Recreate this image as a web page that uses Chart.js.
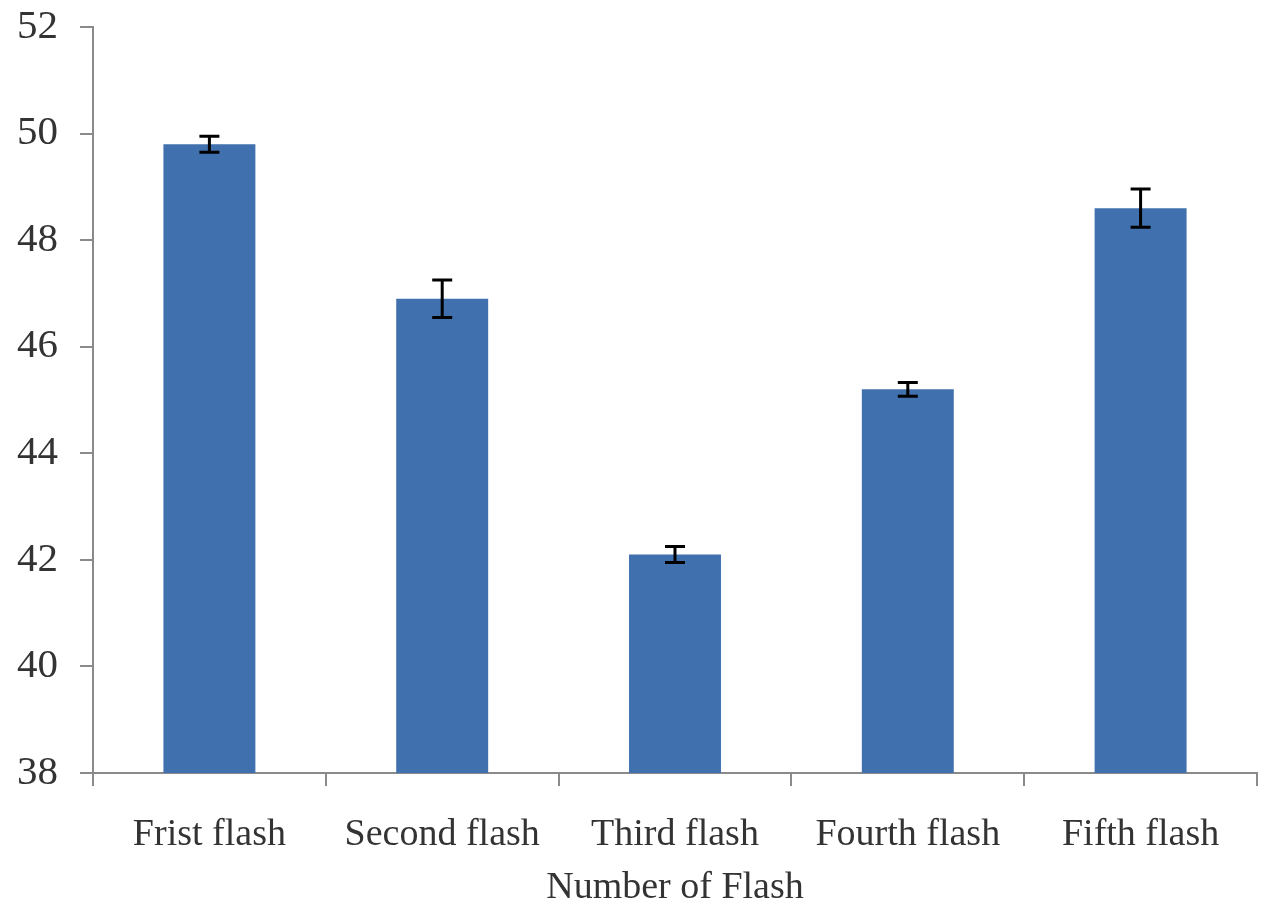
<!DOCTYPE html>
<html>
<head>
<meta charset="utf-8">
<script src="https://cdn.jsdelivr.net/npm/chart.js@4"></script>
<style>
  html, body { margin: 0; padding: 0; background: #fff; }
  #wrap { width: 1262px; height: 901px; }
</style>
</head>
<body>
<div id="wrap"><canvas id="flash_chart"></canvas></div>
<script>
var flashLabels = ["Frist flash", "Second flash", "Third flash", "Fourth flash", "Fifth flash"];
var flashValues = [49.8, 46.9, 42.1, 45.2, 48.6];
var flashErrors = [0.15, 0.35, 0.15, 0.13, 0.36];
var yTicks = [38, 40, 42, 44, 46, 48, 50, 52];

// draws the black error bars on top of each bar
var errorBars = {
  id: 'errorBars',
  afterDatasetsDraw: function (chart) {
    var ctx = chart.ctx;
    var yScale = chart.scales.y;
    var meta = chart.getDatasetMeta(0);
    ctx.save();
    ctx.strokeStyle = '#000';
    ctx.lineWidth = 3;
    meta.data.forEach(function (bar, i) {
      var x = bar.x;
      var top = yScale.getPixelForValue(flashValues[i] + flashErrors[i]);
      var bottom = yScale.getPixelForValue(flashValues[i] - flashErrors[i]);
      ctx.beginPath();
      ctx.moveTo(x, top); ctx.lineTo(x, bottom);
      ctx.moveTo(x - 10, top); ctx.lineTo(x + 10, top);
      ctx.moveTo(x - 10, bottom); ctx.lineTo(x + 10, bottom);
      ctx.stroke();
    });
    ctx.restore();
  }
};

var serif = "'Liberation Serif', 'Times New Roman', serif";

var ctx = document.getElementById('flash_chart').getContext('2d');
var flashChart = new Chart(ctx, {
  type: 'bar',
  data: {
    labels: flashLabels,
    datasets: [{
      data: flashValues,
      backgroundColor: '#4170AE',
      borderWidth: 0,
      categoryPercentage: 1,
      barPercentage: 0.395
    }]
  },
  options: {
    responsive: true,
    maintainAspectRatio: false,
    animation: false,
    layout: { padding: { top: 27, right: 5, left: 0, bottom: 0 } },
    plugins: { legend: { display: false }, tooltip: { enabled: false } },
    scales: {
      y: {
        min: 38,
        max: 52,
        afterFit: function (scale) {
          scale.width = 93;
          scale.paddingTop = 0;
          scale.paddingBottom = 0;
        },
        afterBuildTicks: function (scale) {
          scale.ticks = yTicks.map(function (v) { return { value: v }; });
        },
        border: { color: '#8a8a8a', width: 2 },
        grid: { drawOnChartArea: false, drawTicks: true, tickLength: 13, color: '#8a8a8a', lineWidth: 2 },
        ticks: { font: { family: serif, size: 41 }, color: '#333', padding: 22 }
      },
      x: {
        offset: true,
        afterFit: function (scale) {
          scale.height = 128;
          scale.paddingLeft = 0;
          scale.paddingRight = 0;
        },
        border: { color: '#8a8a8a', width: 2 },
        grid: { offset: true, drawOnChartArea: false, drawTicks: true, tickLength: 13, color: '#8a8a8a', lineWidth: 2 },
        ticks: { font: { family: serif, size: 38 }, color: '#333', padding: 26, maxRotation: 0 },
        title: {
          display: true,
          text: 'Number of Flash',
          font: { family: serif, size: 38, lineHeight: 0.7 },
          color: '#333',
          padding: { top: 0, bottom: 0 }
        }
      }
    }
  },
  plugins: [errorBars]
});
</script>
</body>
</html>
